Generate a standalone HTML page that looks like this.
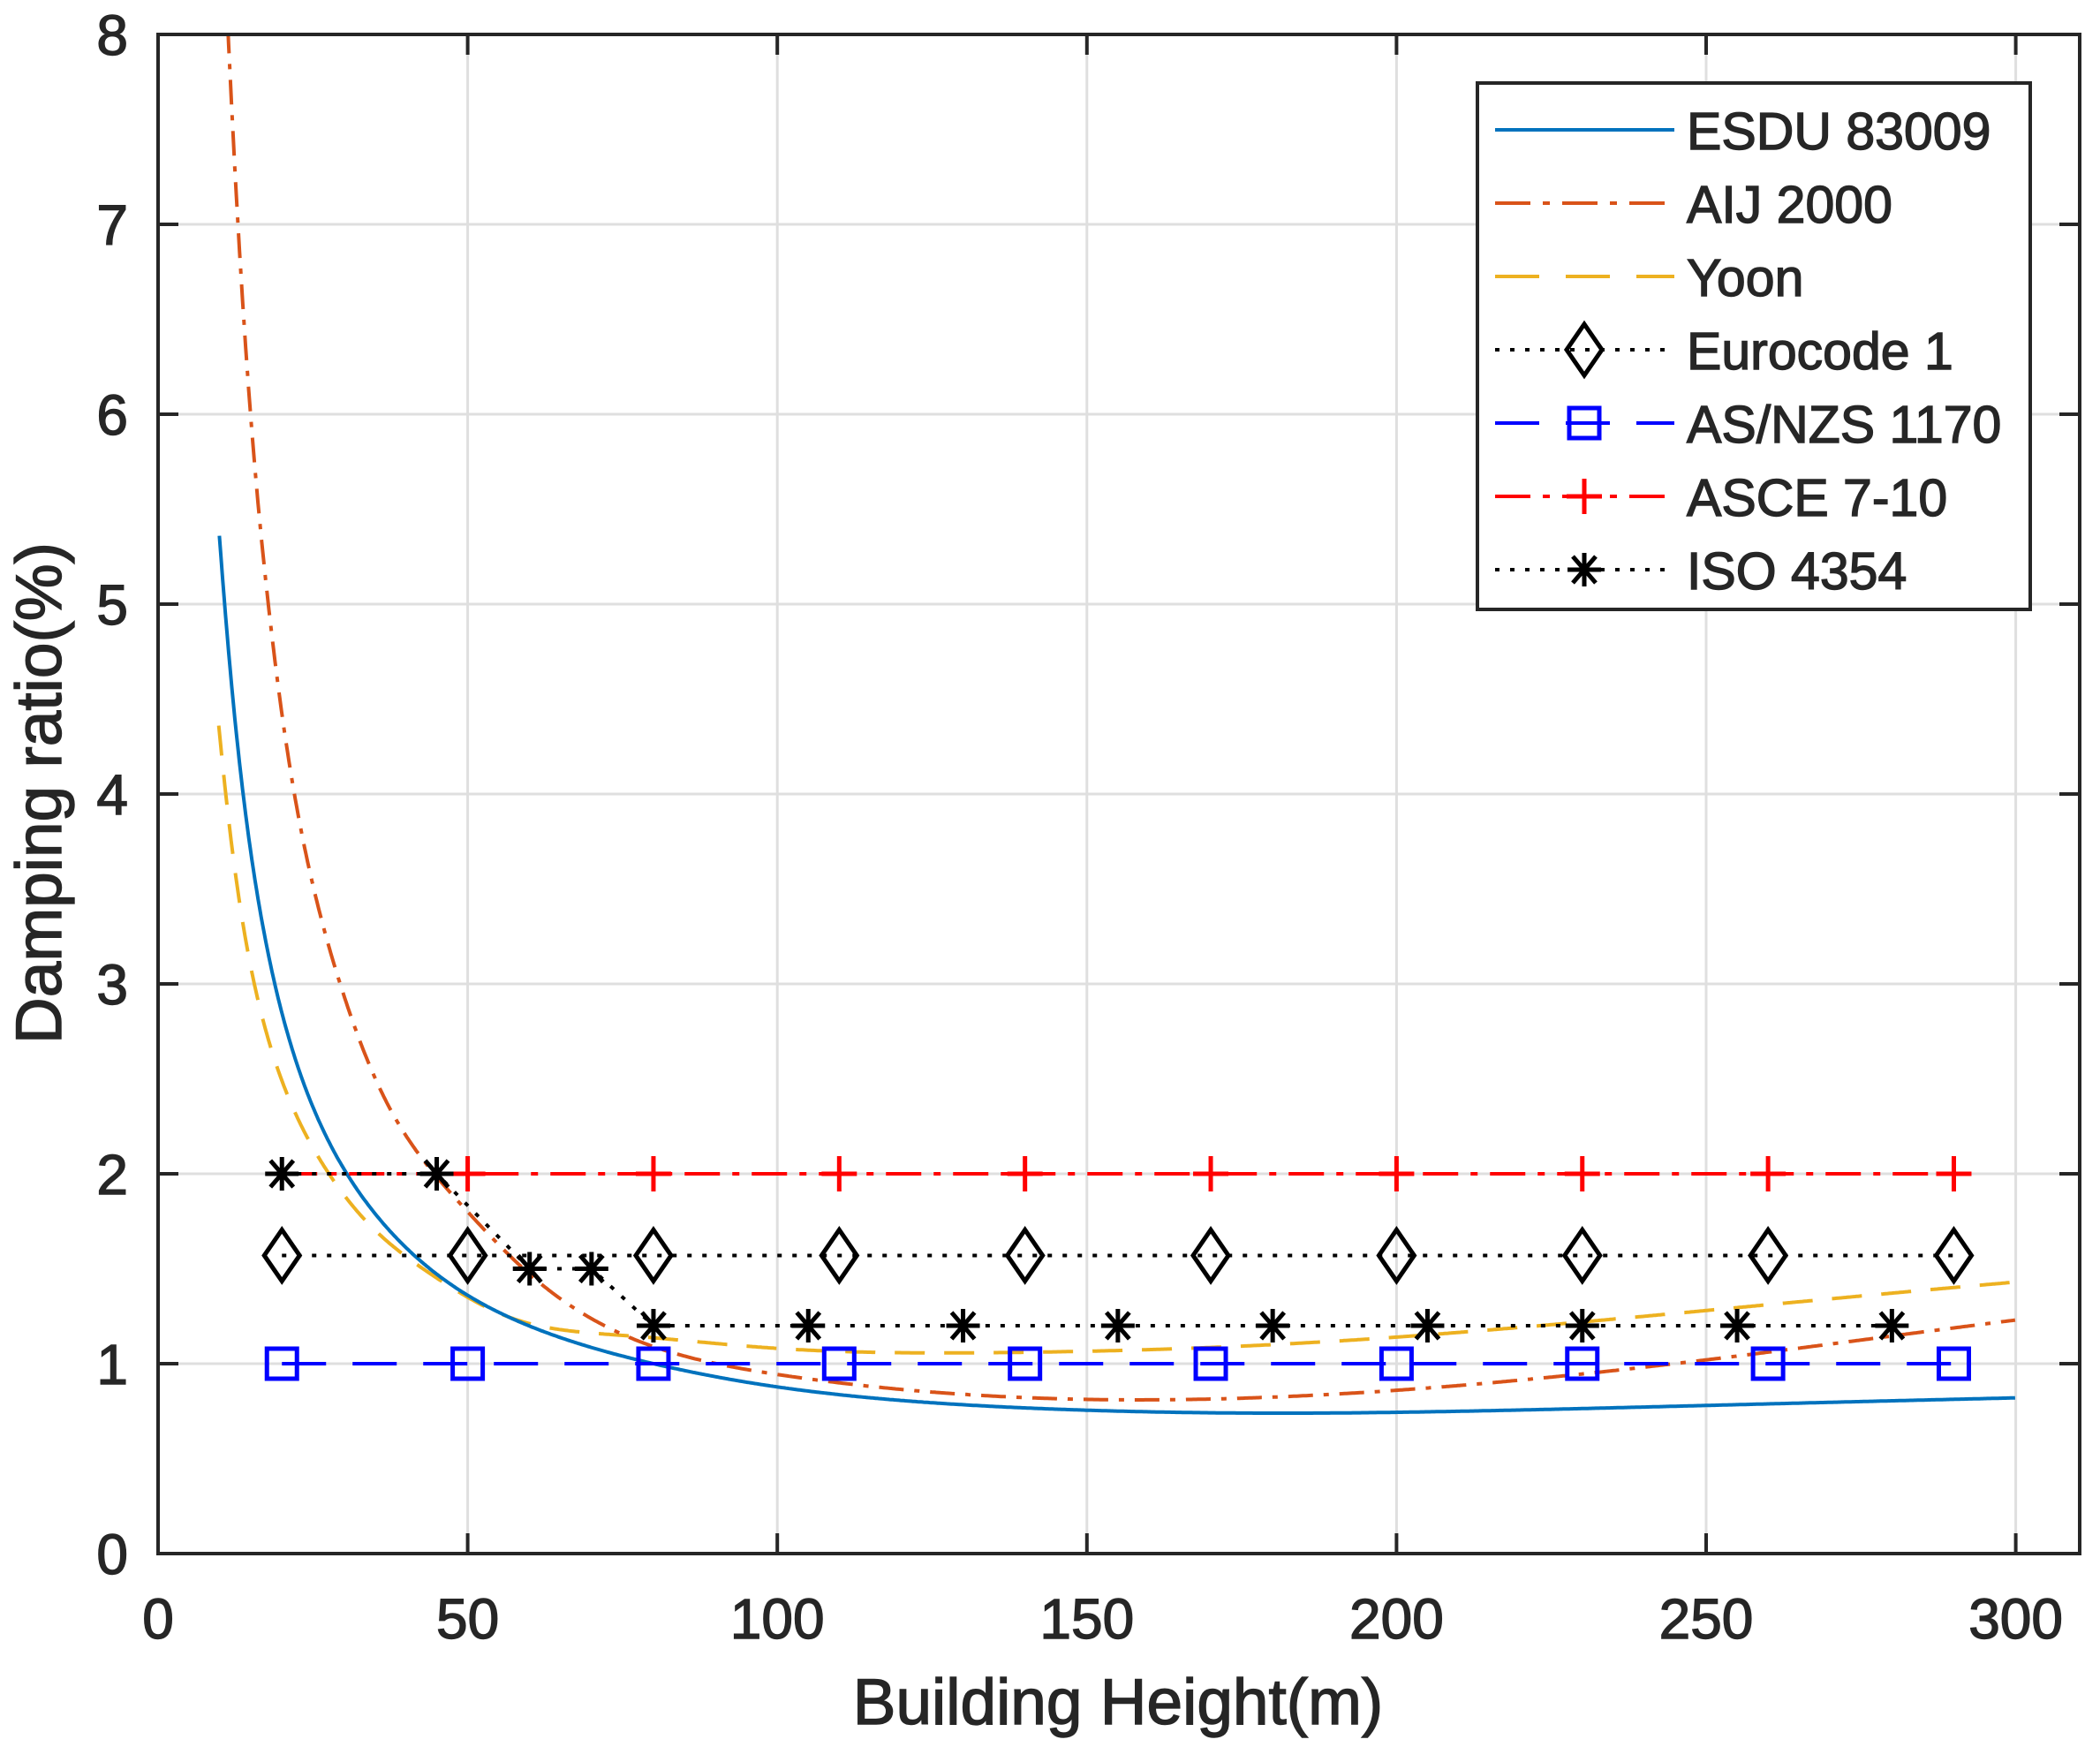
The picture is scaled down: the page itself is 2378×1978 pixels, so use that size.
<!DOCTYPE html>
<html><head><meta charset="utf-8"><style>
html,body{margin:0;padding:0;background:#fff;}
svg{display:block;}
text{font-family:"Liberation Sans",Arial,sans-serif;fill:#262626;stroke:#262626;stroke-width:1.4;}
</style></head><body>
<svg id="s" width="2378" height="1978" viewBox="0 0 2378 1978" xmlns="http://www.w3.org/2000/svg">
<rect x="0" y="0" width="2378" height="1978" fill="#fff"/>
<g id="grid" stroke="#dfdfdf" stroke-width="3"></g>
<g id="series"></g>
<g id="axes"></g>
<g id="labels"></g>
<text x="1266" y="1952" font-size="73" text-anchor="middle">Building Height(m)</text>
<text transform="translate(69,898) rotate(-90)" font-size="73" text-anchor="middle">Damping ratio(%)</text>
<g id="legend"></g>
</svg>
<script>
const NS="http://www.w3.org/2000/svg";
const L=179,R=2355,T=39,B=1759;
const X=h=>179+7.012*h, Y=z=>1759-215*z;
function el(p,tag,a,txt){const e=document.createElementNS(NS,tag);for(const k in a)e.setAttribute(k,a[k]);if(txt!==undefined)e.textContent=txt;p.appendChild(e);return e;}
const g=document.getElementById('grid'),ax=document.getElementById('axes'),lb=document.getElementById('labels'),S=document.getElementById('series'),lg=document.getElementById('legend');
for(let h=50;h<=300;h+=50){el(g,'line',{x1:X(h),x2:X(h),y1:T,y2:B});}
for(let z=1;z<=7;z++){el(g,'line',{x1:L,x2:R,y1:Y(z),y2:Y(z)});}
el(ax,'rect',{x:L,y:T,width:R-L,height:B-T,fill:'none',stroke:'#262626','stroke-width':4});
for(let h=0;h<=300;h+=50){
 el(ax,'line',{x1:X(h),x2:X(h),y1:B,y2:B-23,stroke:'#262626','stroke-width':4});
 el(ax,'line',{x1:X(h),x2:X(h),y1:T,y2:T+23,stroke:'#262626','stroke-width':4});
 el(lb,'text',{x:X(h),y:1855,'font-size':64,'text-anchor':'middle'},String(h));
}
for(let z=0;z<=8;z++){
 el(ax,'line',{x1:L,x2:L+23,y1:Y(z),y2:Y(z),stroke:'#262626','stroke-width':4});
 el(ax,'line',{x1:R,x2:R-23,y1:Y(z),y2:Y(z),stroke:'#262626','stroke-width':4});
 el(lb,'text',{x:145,y:Y(z)+23,'font-size':64,'text-anchor':'end'},String(z));
}
function spline(pts){
 const n=pts.length,x=pts.map(p=>Math.log(p[0])),y=pts.map(p=>p[1]);
 const h=[],al=[],l=[1],mu=[0],zz=[0],c=new Array(n).fill(0),b=[],d=[];
 for(let i=0;i<n-1;i++)h[i]=x[i+1]-x[i];
 for(let i=1;i<n-1;i++)al[i]=3/h[i]*(y[i+1]-y[i])-3/h[i-1]*(y[i]-y[i-1]);
 for(let i=1;i<n-1;i++){l[i]=2*(x[i+1]-x[i-1])-h[i-1]*mu[i-1];mu[i]=h[i]/l[i];zz[i]=(al[i]-h[i-1]*zz[i-1])/l[i];}
 for(let j=n-2;j>=0;j--){c[j]=zz[j]-mu[j]*c[j+1];b[j]=(y[j+1]-y[j])/h[j]-h[j]*(c[j+1]+2*c[j])/3;d[j]=(c[j+1]-c[j])/(3*h[j]);}
 const out=[];
 for(let H=pts[0][0];H<=pts[n-1][0]+1e-9;H+=0.25){
  const u=Math.log(H);let j=0;while(j<n-2&&u>x[j+1])j++;
  const dx=u-x[j];out.push([X(H),Y(y[j]+b[j]*dx+c[j]*dx*dx+d[j]*dx*dx*dx)]);
 }
 return 'M'+out.map(p=>p[0].toFixed(1)+','+p[1].toFixed(1)).join(' L');
}
const P=a=>a.map(([h,z])=>[X(h),Y(z)]);
const clipR=el(S,'clipPath',{id:'cp'});el(clipR,'rect',{x:L,y:T,width:R-L,height:B-T});
const SG=el(S,'g',{'clip-path':'url(#cp)'});
const esdu=[[9.9,5.36],[13.2,4.15],[18.5,3.05],[34.8,1.8],[50,1.36],[80,1.0],[102.8,0.865],[150,0.755],[188,0.74],[250,0.78],[300,0.82]];
const aij=[[10.9,8.3],[12.9,7.0],[15.3,5.85],[17.8,5.0],[21.7,4.06],[29.6,2.98],[37.5,2.34],[50,1.8],[63,1.39],[80,1.09],[102.8,0.93],[154.6,0.81],[200,0.86],[250,1.02],[300,1.23]];
const yoon=[[9.8,4.36],[13.2,3.42],[27.6,2.0],[34.2,1.73],[46,1.43],[59,1.22],[78.7,1.14],[102.8,1.075],[140,1.06],[200,1.14],[250,1.28],[300,1.43]];
el(SG,'path',{d:spline(yoon),fill:'none',stroke:'#EDB120','stroke-width':4,'stroke-dasharray':'34,22'});
el(SG,'path',{d:spline(aij),fill:'none',stroke:'#D95319','stroke-width':4,'stroke-dasharray':'28,12,6,12'});
el(SG,'path',{d:spline(esdu),fill:'none',stroke:'#0072BD','stroke-width':4});
function diamond(p,x,y,c){el(p,'path',{d:`M${x},${y-29} L${x+20},${y} L${x},${y+29} L${x-20},${y} Z`,fill:'none',stroke:c,'stroke-width':5});}
function square(p,x,y,c){el(p,'rect',{x:x-17,y:y-17,width:34,height:34,fill:'none',stroke:c,'stroke-width':5});}
function plus(p,x,y,c){el(p,'path',{d:`M${x-20},${y} H${x+20} M${x},${y-20} V${y+20}`,stroke:c,'stroke-width':5});}
function star(p,x,y,c){el(p,'path',{d:`M${x-19},${y} H${x+19} M${x},${y-19} V${y+19} M${x-13},${y-15} L${x+13},${y+15} M${x-13},${y+15} L${x+13},${y-15}`,stroke:c,'stroke-width':5});}
const hs=[20,50,80,110,140,170,200,230,260,290];
el(S,'line',{x1:X(20),x2:X(290),y1:Y(1.57),y2:Y(1.57),stroke:'#000','stroke-width':4,'stroke-dasharray':'5,12'});
hs.forEach(h=>diamond(S,X(h),Y(1.57),'#000'));
el(S,'line',{x1:X(20),x2:X(290),y1:Y(1),y2:Y(1),stroke:'#0000FF','stroke-width':4,'stroke-dasharray':'50,30'});
hs.forEach(h=>square(S,X(h),Y(1),'#0000FF'));
el(S,'line',{x1:X(20),x2:X(290),y1:Y(2),y2:Y(2),stroke:'#FF0000','stroke-width':4,'stroke-dasharray':'40,14,8,14'});
hs.slice(1).forEach(h=>plus(S,X(h),Y(2),'#FF0000'));
const iso=[[20,2],[45,2],[60,1.5],[70,1.5],[80,1.2],[105,1.2],[130,1.2],[155,1.2],[180,1.2],[205,1.2],[230,1.2],[255,1.2],[280,1.2]];
el(S,'polyline',{points:P(iso).map(p=>p.join(',')).join(' '),fill:'none',stroke:'#000','stroke-width':4,'stroke-dasharray':'5,12'});
iso.forEach(([h,z])=>star(S,X(h),Y(z),'#000'));
el(lg,'rect',{x:1673,y:94,width:626,height:596,fill:'#fff',stroke:'#262626','stroke-width':4});
const names=['ESDU 83009','AIJ 2000','Yoon','Eurocode 1','AS/NZS 1170','ASCE 7-10','ISO 4354'];
const rows=[147,230,313,396,479,562,645];
const x1=1693,x2=1896,mx=1794;
const st=[
 {c:'#0072BD',da:''},{c:'#D95319',da:'40,14,8,14'},{c:'#EDB120',da:'50,30'},{c:'#000',da:'5,12',m:diamond},
 {c:'#0000FF',da:'50,30',m:square},{c:'#FF0000',da:'40,14,8,14',m:plus},{c:'#000',da:'5,12',m:star}];
names.forEach((n,i)=>{const y=rows[i];const a={x1:x1,x2:x2,y1:y,y2:y,stroke:st[i].c,'stroke-width':4};if(st[i].da)a['stroke-dasharray']=st[i].da;el(lg,'line',a);
 if(st[i].m)st[i].m(lg,mx,y,st[i].c);
 el(lg,'text',{x:1910,y:y+22,'font-size':59,fill:'#000',stroke:'#000'},n);});
</script>
</body></html>
